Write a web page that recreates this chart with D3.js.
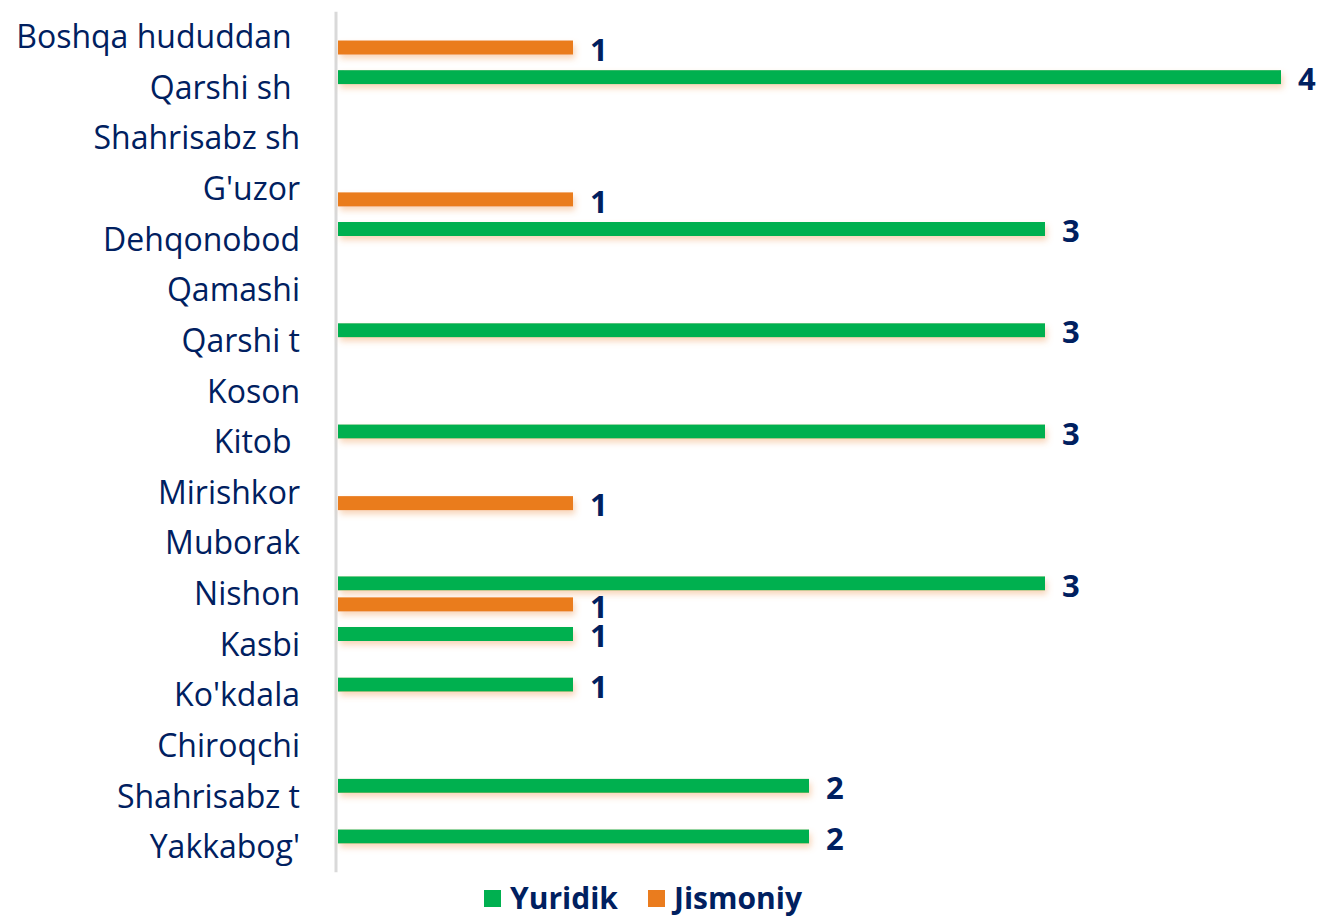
<!DOCTYPE html>
<html>
<head>
	<title>chart</title>
	<script src="https://cdn.jsdelivr.net/npm/d3@7"></script>
</head>
<style type="text/css">
	body { margin:0; background:#fff; }
	text { font-family: "Open Sans", "Noto Sans", sans-serif; fill:#002060; white-space: pre; }
</style>
<body>
</body>
</html>
<script type="text/javascript">
	var width = 1320;
	var height = 917;

	var categories = ["Boshqa hududdan ", "Qarshi sh ", "Shahrisabz sh", "G'uzor", "Dehqonobod", "Qamashi", "Qarshi t",
		"Koson", "Kitob ", "Mirishkor", "Muborak", "Nishon", "Kasbi", "Ko'kdala", "Chiroqchi", "Shahrisabz t", "Yakkabog'"];
	var seriesNames = ["Yuridik", "Jismoniy"];
	var yuridik  = [0, 4, 0, 0, 3, 0, 3, 0, 3, 0, 0, 3, 1, 1, 0, 2, 2];
	var jismoniy = [1, 0, 0, 1, 0, 0, 0, 0, 0, 1, 0, 1, 0, 0, 0, 0, 0];
	var colors = ["#00B050", "#EA7C1E"];

	var svg = d3.select("body").append("svg").attr("width", width).attr("height", height);

	var defs = svg.append("defs");
	var f = defs.append("filter").attr("id", "glow").attr("x", "-5%").attr("y", "-50%").attr("width", "110%").attr("height", "250%");
	f.append("feDropShadow").attr("dx", 2).attr("dy", 4).attr("stdDeviation", 3)
		.attr("flood-color", "#f0a060").attr("flood-opacity", 0.45);

	var x = d3.scaleLinear().domain([0, 4]).range([337, 1281]);
	var y = d3.scaleBand().domain(categories).range([11.7, 872.3]);
	var ySub = d3.scaleBand().domain(seriesNames).range([0, y.bandwidth()]).paddingInner(1/3).paddingOuter(0.372);

	// category labels
	svg.append("g").selectAll("text")
		.data(categories)
		.enter()
		.append("text")
		.attr("x", 300)
		.attr("y", function(d){ return y(d) + y.bandwidth()/2; })
		.attr("dy", "0.35em")
		.attr("text-anchor", "end")
		.style("font-size", "32px")
		.text(function(d){ return d; });

	// axis line
	svg.append("line")
		.attr("x1", x(0) - 1).attr("x2", x(0) - 1)
		.attr("y1", y.range()[0]).attr("y2", y.range()[1])
		.attr("stroke", "#d9d9d9").attr("stroke-width", 3);

	var rows = [];
	categories.forEach(function(c, i){
		rows.push({cat: c, s: 0, v: yuridik[i]});
		rows.push({cat: c, s: 1, v: jismoniy[i]});
	});
	rows = rows.filter(function(d){ return d.v > 0; });

	var bars = svg.append("g").selectAll("g")
		.data(rows)
		.enter()
		.append("g");

	bars.append("rect")
		.attr("x", x(0) + 1)
		.attr("y", function(d){ return y(d.cat) + ySub(seriesNames[d.s]); })
		.attr("width", function(d){ return x(d.v) - x(0) - 1; })
		.attr("height", ySub.bandwidth())
		.attr("fill", function(d){ return colors[d.s]; })
		.attr("filter", "url(#glow)");

	bars.append("text")
		.attr("x", function(d){ return x(d.v) + 17; })
		.attr("y", function(d){ return y(d.cat) + ySub(seriesNames[d.s]) + ySub.bandwidth()/2 + 2; })
		.attr("dy", "0.36em")
		.style("font-size", "31px")
		.style("font-weight", "bold")
		.text(function(d){ return d.v; });

	// legend
	var legendX = [484, 648];
	var lg = svg.append("g").selectAll("g")
		.data(seriesNames)
		.enter()
		.append("g")
		.attr("transform", function(d, i){ return "translate(" + legendX[i] + ",898)"; });
	lg.append("rect").attr("x", 0).attr("y", -8).attr("width", 17).attr("height", 17)
		.attr("fill", function(d, i){ return colors[i]; });
	lg.append("text").attr("x", 26).attr("dy", "0.35em")
		.style("font-size", "30px").style("font-weight", "bold")
		.text(function(d){ return d; });
</script>
